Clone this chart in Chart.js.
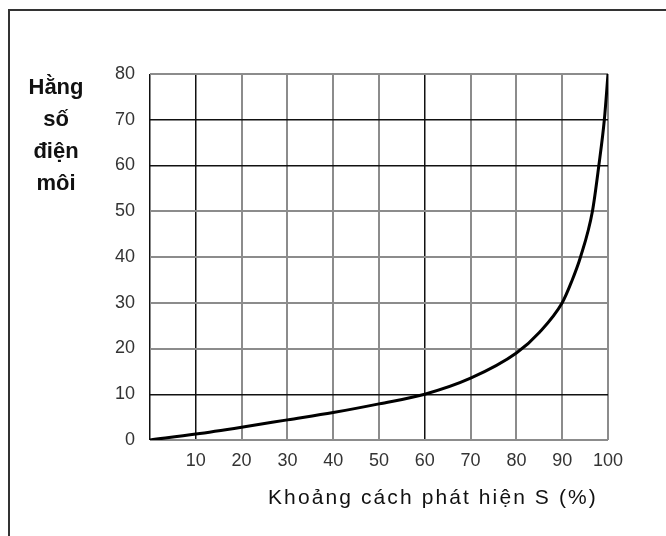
<!DOCTYPE html>
<html>
<head>
<meta charset="utf-8">
<script src="https://cdn.jsdelivr.net/npm/chart.js@4"></script>
<style>
  html, body { margin: 0; padding: 0; background: #fff; }
  #wrap { position: relative; width: 666px; height: 536px; overflow: hidden; font-family: "Liberation Sans", Arial, sans-serif; }
  #frame { position: absolute; left: 8px; top: 9px; width: 700px; height: 600px; border-left: 2px solid #333; border-top: 2px solid #333; }
  #ytitle { position: absolute; left: 12px; top: 71px; width: 88px; text-align: center; font-weight: bold; font-size: 22px; line-height: 32px; color: #111; }
  #xtitle { position: absolute; left: 268px; top: 485px; font-size: 21px; letter-spacing: 2.1px; color: #111; white-space: nowrap; }
  canvas { position: absolute; left: 0; top: 0; }
</style>
</head>
<body>
<div id="wrap">
  <div id="frame"></div>
  <canvas id="myChart" width="666" height="536"></canvas>
  <div id="ytitle">Hằng<br>số<br>điện<br>môi</div>
  <div id="xtitle">Khoảng cách phát hiện S (%)</div>
</div>
<script>
// detection distance S (%) vs dielectric constant
const distance = [0, 10, 20, 30, 40, 50, 60, 70, 80, 85, 90, 92, 94, 96.6, 98, 99.2, 100]
const dielectric = [0, 1.3, 2.8, 4.4, 6.0, 7.9, 10, 13.5, 19, 23.5, 30, 34.5, 40, 50, 60, 70, 80]
const xTicks = [10, 20, 30, 40, 50, 60, 70, 80, 90, 100]
const yTicks = [0, 10, 20, 30, 40, 50, 60, 70, 80]

const darkX = [0, 10, 60]
const darkY = [10, 60, 70]

const ctx = document.getElementById('myChart').getContext('2d')
new Chart(ctx, {
  type: 'line',
  data: {
    datasets: [{
      data: distance.map((s, i) => ({ x: s, y: dielectric[i] })),
      borderColor: '#000',
      borderWidth: 3,
      pointRadius: 0,
      cubicInterpolationMode: 'monotone',
      fill: false
    }]
  },
  options: {
    responsive: false,
    animation: false,
    layout: { padding: { left: 0, top: 74, right: 58, bottom: 0 } },
    plugins: { legend: { display: false }, tooltip: { enabled: false } },
    scales: {
      x: {
        type: 'linear',
        min: 0,
        max: 100,
        afterFit: scale => { scale.height = 96 },
        afterBuildTicks: scale => { scale.ticks = [0].concat(xTicks).map(v => ({ value: v })) },
        ticks: {
          padding: 10,
          color: '#333',
          font: { family: 'Liberation Sans', size: 18 },
          callback: v => v === 0 ? '' : v
        },
        grid: {
          drawTicks: false,
          lineWidth: c => darkX.includes(c.tick && c.tick.value) ? 1.5 : 2,
          color: c => darkX.includes(c.tick && c.tick.value) ? '#111' : '#8c8c8c'
        },
        border: { display: false }
      },
      y: {
        min: 0,
        max: 80,
        afterFit: scale => { scale.width = 150 },
        afterBuildTicks: scale => { scale.ticks = yTicks.map(v => ({ value: v })) },
        ticks: {
          padding: 15,
          color: '#333',
          font: { family: 'Liberation Sans', size: 18 }
        },
        grid: {
          drawTicks: false,
          lineWidth: c => darkY.includes(c.tick && c.tick.value) ? 1.5 : 2,
          color: c => darkY.includes(c.tick && c.tick.value) ? '#111' : '#8c8c8c'
        },
        border: { display: false }
      }
    }
  }
})
</script>
</body>
</html>
